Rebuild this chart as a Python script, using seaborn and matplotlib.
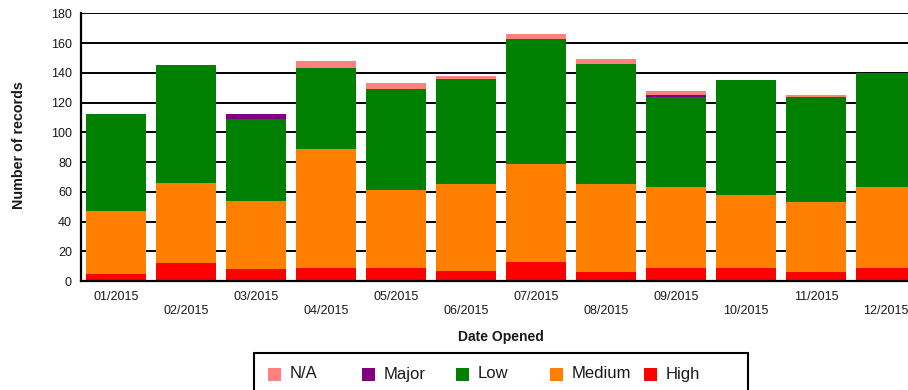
import matplotlib
matplotlib.use("Agg")
import matplotlib.pyplot as plt
import seaborn as sns
import pandas as pd
from matplotlib.patches import Rectangle

# Monthly record counts by priority
months = ["01/2015", "02/2015", "03/2015", "04/2015", "05/2015", "06/2015",
          "07/2015", "08/2015", "09/2015", "10/2015", "11/2015", "12/2015"]
high = [5, 12, 8, 9, 9, 7, 13, 6, 9, 9, 6, 9]
medium = [42, 54, 46, 80, 52, 58, 66, 59, 54, 49, 47, 54]
low = [65, 79, 55, 54, 68, 71, 84, 81, 61, 77, 71, 77]
major = [0, 0, 3, 0, 0, 0, 0, 0, 1, 0, 0, 0]
na = [0, 0, 0, 5, 4, 2, 3, 3, 3, 0, 1, 0]

# stacking order, bottom to top
series = ["High", "Medium", "Low", "Major", "N/A"]
colors = {"N/A": "#FF8080", "Major": "#800080", "Low": "#008000",
          "Medium": "#FF8000", "High": "#FF0000"}
legend_order = ["N/A", "Major", "Low", "Medium", "High"]
yticks = list(range(0, 181, 20))

sns.set_theme(style="white")
plt.rcParams["font.family"] = ["Liberation Sans", "DejaVu Sans"]
text_color = "#1a1a1a"

df = pd.DataFrame({"month": months, "High": high, "Medium": medium,
                   "Low": low, "Major": major, "N/A": na})
running = 0
for name in series:
    running = running + df[name]
    df["top_" + name] = running

W, H = 908, 390
fig = plt.figure(figsize=(W / 100, H / 100), dpi=100)
ax = fig.add_axes([81 / W, 109 / H, 840 / W, 267.7 / H])

# draw cumulative layers from the top down so each covers the one above it
for i, name in enumerate(reversed(series)):
    sns.barplot(data=df, x="month", y="top_" + name, order=months,
                color=colors[name], saturation=1, width=0.843,
                errorbar=None, edgecolor="none", linewidth=0,
                ax=ax, zorder=2 + i)

ax.set_xlim(-0.5, len(months) - 0.5)
ax.set_ylim(0, 180)
ax.set_yticks(yticks)
ax.set_yticklabels([str(v) for v in yticks], fontsize=9, color=text_color)
ax.yaxis.grid(True, color="black", linewidth=1.4)
ax.xaxis.grid(False)
ax.set_axisbelow(True)

# staggered month labels
ax.set_xticks(range(0, 12, 2), labels=months[0::2])
ax.set_xticks(range(1, 12, 2), labels=months[1::2], minor=True)
ax.tick_params(axis="x", which="major", length=0, pad=7, labelsize=9,
               labelcolor=text_color)
ax.tick_params(axis="x", which="minor", length=0, pad=17, labelsize=9,
               labelcolor=text_color)
ax.tick_params(axis="y", length=0, pad=6.5)
ax.set_xlabel("")
ax.set_ylabel("")

for side in ["top", "right"]:
    ax.spines[side].set_visible(False)
for side in ["left", "bottom"]:
    ax.spines[side].set_color("black")
    ax.spines[side].set_linewidth(1.6)
    ax.spines[side].set_zorder(10)

fig.text(19 / W, 1 - 145 / H, "Number of records", rotation=90,
         ha="center", va="center", fontsize=10.3, fontweight="bold",
         color=text_color)
fig.text(501 / W, 1 - 336.7 / H, "Date Opened", ha="center", va="center",
         fontsize=10, fontweight="bold", color=text_color)

# legend box along the bottom
fig.patches.append(Rectangle((254 / W, -5 / H), 494 / W, (H - 352.7 + 5) / H,
                             transform=fig.transFigure, facecolor="white",
                             edgecolor="black", linewidth=1.5))
for i, name in enumerate(legend_order):
    x0 = 268 + i * 94
    fig.patches.append(Rectangle((x0 / W, 1 - 380.5 / H), 13 / W, 13 / H,
                                 transform=fig.transFigure,
                                 facecolor=colors[name], edgecolor="none"))
    fig.text((x0 + 22) / W, 1 - 374 / H, name, ha="left", va="center",
             fontsize=12, color=text_color)

fig.savefig("out.png", dpi=100)
